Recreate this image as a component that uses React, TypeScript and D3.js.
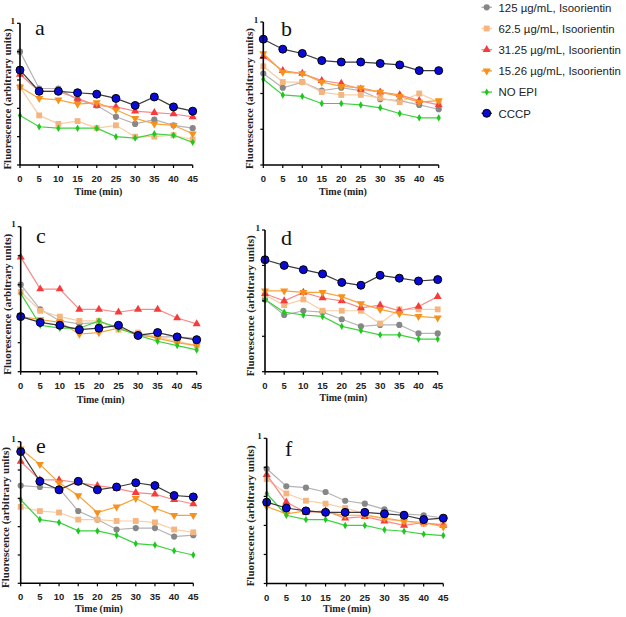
import { useMemo } from "react";
import * as d3 from "d3";

const times = [0, 5, 10, 15, 20, 25, 30, 35, 40, 45];

const seriesLabels = [
  "125 µg/mL, Isoorientin",
  "62.5 µg/mL, Isoorientin",
  "31.25 µg/mL, Isoorientin",
  "15.26 µg/mL, Isoorientin",
  "NO EPI",
  "CCCP",
];

const panelLetters = ["a", "b", "c", "d", "e", "f"];

// each panel: 125, 62.5, 31.25, 15.26, NO EPI, CCCP
const panelA = [
  [0.8, 0.54, 0.54, 0.46, 0.42, 0.34, 0.29, 0.32, 0.28, 0.26],
  [0.55, 0.35, 0.29, 0.31, 0.26, 0.28, 0.2, 0.2, 0.21, 0.18],
  [0.64, 0.52, 0.52, 0.47, 0.42, 0.41, 0.38, 0.37, 0.36, 0.34],
  [0.55, 0.47, 0.46, 0.43, 0.44, 0.39, 0.33, 0.29, 0.28, 0.22],
  [0.35, 0.27, 0.26, 0.26, 0.26, 0.2, 0.19, 0.22, 0.21, 0.16],
  [0.67, 0.52, 0.52, 0.51, 0.5, 0.47, 0.42, 0.48, 0.41, 0.38],
];

const panelB = [
  [0.64, 0.54, 0.58, 0.52, 0.54, 0.52, 0.46, 0.45, 0.42, 0.39],
  [0.69, 0.58, 0.58, 0.51, 0.49, 0.49, 0.47, 0.44, 0.5, 0.44],
  [0.76, 0.66, 0.64, 0.59, 0.57, 0.53, 0.51, 0.49, 0.45, 0.42],
  [0.78, 0.65, 0.64, 0.58, 0.55, 0.54, 0.51, 0.48, 0.44, 0.45],
  [0.6, 0.49, 0.48, 0.43, 0.43, 0.42, 0.4, 0.36, 0.33, 0.33],
  [0.88, 0.81, 0.78, 0.73, 0.72, 0.72, 0.71, 0.7, 0.66, 0.66],
];

const panelC = [
  [0.6, 0.43, 0.35, 0.33, 0.34, 0.31, 0.25, 0.24, 0.24, 0.23],
  [0.55, 0.42, 0.38, 0.35, 0.35, 0.29, 0.27, 0.24, 0.21, 0.18],
  [0.79, 0.57, 0.57, 0.43, 0.43, 0.41, 0.43, 0.43, 0.37, 0.33],
  [0.38, 0.36, 0.34, 0.26, 0.27, 0.3, 0.26, 0.23, 0.2, 0.18],
  [0.54, 0.32, 0.3, 0.3, 0.35, 0.3, 0.25, 0.21, 0.18, 0.15],
  [0.38, 0.34, 0.32, 0.29, 0.3, 0.32, 0.25, 0.27, 0.24, 0.22],
];

const panelD = [
  [0.51, 0.4, 0.43, 0.42, 0.37, 0.32, 0.33, 0.33, 0.27, 0.27],
  [0.54, 0.47, 0.51, 0.43, 0.43, 0.43, 0.34, 0.44, 0.44, 0.44],
  [0.55, 0.5, 0.56, 0.52, 0.5, 0.45, 0.47, 0.43, 0.46, 0.53],
  [0.57, 0.57, 0.56, 0.56, 0.53, 0.48, 0.44, 0.41, 0.39, 0.38],
  [0.51, 0.42, 0.4, 0.39, 0.32, 0.29, 0.26, 0.26, 0.23, 0.23],
  [0.79, 0.75, 0.72, 0.69, 0.63, 0.61, 0.68, 0.66, 0.64, 0.65],
];

const panelE = [
  [0.69, 0.68, 0.67, 0.51, 0.45, 0.38, 0.39, 0.39, 0.33, 0.34],
  [0.54, 0.51, 0.5, 0.45, 0.45, 0.44, 0.44, 0.43, 0.38, 0.36],
  [0.86, 0.73, 0.73, 0.71, 0.69, 0.67, 0.64, 0.63, 0.59, 0.56],
  [0.95, 0.84, 0.71, 0.62, 0.5, 0.54, 0.6, 0.53, 0.48, 0.48],
  [0.59, 0.45, 0.43, 0.37, 0.37, 0.34, 0.28, 0.27, 0.23, 0.2],
  [0.93, 0.72, 0.66, 0.72, 0.66, 0.68, 0.71, 0.69, 0.62, 0.61],
];

const panelF = [
  [0.79, 0.67, 0.66, 0.63, 0.57, 0.55, 0.51, 0.48, 0.47, 0.45],
  [0.72, 0.62, 0.57, 0.55, 0.52, 0.48, 0.44, 0.43, 0.41, 0.41],
  [0.75, 0.56, 0.49, 0.5, 0.45, 0.46, 0.43, 0.4, 0.42, 0.4],
  [0.53, 0.48, 0.5, 0.49, 0.47, 0.47, 0.45, 0.43, 0.42, 0.39],
  [0.62, 0.47, 0.44, 0.44, 0.4, 0.4, 0.37, 0.36, 0.34, 0.33],
  [0.56, 0.52, 0.5, 0.49, 0.49, 0.49, 0.48, 0.47, 0.44, 0.45],
];

const panelValues = [panelA, panelB, panelC, panelD, panelE, panelF];
const yTickCounts = [5, 4, 5, 4, 5, 5];

// plot frames in page pixels
const frames = [
  { x0: 20, x1: 192.7, top: 23.3, bottom: 165, labelX: 7, titleY: 195, letter: [35, 35] },
  { x0: 263.3, x1: 438.7, top: 22, bottom: 165, labelX: 249, titleY: 194.5, letter: [281, 36] },
  { x0: 20.7, x1: 196.7, top: 226.7, bottom: 371.7, labelX: 7, titleY: 403, letter: [36, 243] },
  { x0: 265, x1: 437.7, top: 230, bottom: 371.7, labelX: 250.5, titleY: 400.5, letter: [281, 245] },
  { x0: 20.7, x1: 193.3, top: 441.7, bottom: 583.3, labelX: 5.8, titleY: 612, letter: [36, 453] },
  { x0: 266.7, x1: 443.3, top: 438.3, bottom: 583.5, labelX: 250, titleY: 612, letter: [285, 456] },
];

const styles = [
  { line: "#b4b4b4", fill: "#878787", stroke: "none", symbol: d3.symbolCircle, size: 30, rotate: 0 },
  { line: "#f9cda6", fill: "#f4b57e", stroke: "none", symbol: d3.symbolSquare, size: 34, rotate: 0 },
  { line: "#f88a8a", fill: "#f43c3c", stroke: "none", symbol: d3.symbolTriangle, size: 28, rotate: 0 },
  { line: "#f7a43c", fill: "#f7901c", stroke: "none", symbol: d3.symbolTriangle, size: 28, rotate: 180 },
  { line: "#3fd23f", fill: "#1ec81e", stroke: "none", symbol: d3.symbolDiamond, size: 16, rotate: 0 },
  { line: "#3a3a3a", fill: "#0a0ad8", stroke: "#000", symbol: d3.symbolCircle, size: 50, rotate: 0 },
];

function Panel({ index }: { index: number }) {
  const f = frames[index];
  const values = panelValues[index];
  const x = d3.scaleLinear().domain([0, 45]).range([f.x0, f.x1]);
  const y = d3.scaleLinear().domain([0, 1]).range([f.bottom, f.top]);
  const yTicks = d3.range(yTickCounts[index] + 1).map((i) => i / yTickCounts[index]);
  const line = d3
    .line<number>()
    .x((_, i) => x(times[i]))
    .y((d) => y(d));
  const midY = (f.top + f.bottom) / 2 + 5;

  return (
    <g>
      {values.map((s, si) => {
        const st = styles[si];
        const path = d3.symbol(st.symbol, st.size)() as string;
        return (
          <g key={si}>
            <path d={line(s) as string} fill="none" stroke={st.line} strokeWidth={1.2} />
            {s.map((v, i) => (
              <path
                key={i}
                d={path}
                transform={`translate(${x(times[i])},${y(v)}) rotate(${st.rotate})`}
                fill={st.fill}
                stroke={st.stroke}
                strokeWidth={1}
              />
            ))}
          </g>
        );
      })}

      {/* axes */}
      <line x1={f.x0} x2={f.x0} y1={f.top} y2={f.bottom} stroke="#000" strokeWidth={1.6} />
      <line x1={f.x0} x2={f.x1} y1={f.bottom} y2={f.bottom} stroke="#000" strokeWidth={1.6} />
      {yTicks.map((t) => (
        <line key={t} x1={f.x0 - 3} x2={f.x0} y1={y(t)} y2={y(t)} stroke="#000" strokeWidth={1.2} />
      ))}
      {times.map((t) => (
        <g key={t}>
          <line x1={x(t)} x2={x(t)} y1={f.bottom} y2={f.bottom + 3} stroke="#000" strokeWidth={1.2} />
          <text
            x={x(t)}
            y={f.bottom + 17}
            textAnchor="middle"
            fontFamily="Liberation Sans, Arial, sans-serif"
            fontWeight="bold"
            fontSize={9.5}
            fill="#222"
          >
            {t}
          </text>
        </g>
      ))}
      <text
        x={f.x0 - 5}
        y={f.top + 0.5}
        textAnchor="end"
        fontFamily="Liberation Serif, Times New Roman, serif"
        fontWeight="bold"
        fontSize={9}
        fill="#222"
      >
        1
      </text>
      <text
        x={(f.x0 + f.x1) / 2 - 8}
        y={f.titleY}
        textAnchor="middle"
        fontFamily="Liberation Serif, Times New Roman, serif"
        fontWeight="bold"
        fontSize={10}
        fill="#222"
      >
        Time (min)
      </text>
      <text
        transform={`translate(${f.labelX + 3.5},${midY}) rotate(-90)`}
        textAnchor="middle"
        fontFamily="Liberation Serif, Times New Roman, serif"
        fontWeight="bold"
        fontSize={11}
        fill="#222"
      >
        Fluorescence (arbitrary units)
      </text>
      <text
        x={f.letter[0]}
        y={f.letter[1]}
        fontFamily="Liberation Serif, Times New Roman, serif"
        fontSize={22}
        fill="#111"
      >
        {panelLetters[index]}
      </text>
    </g>
  );
}

function Legend() {
  const rowY = d3.scaleLinear().domain([0, 5]).range([7.3, 113.3]);
  return (
    <g>
      {seriesLabels.map((label, i) => {
        const st = styles[i];
        const path = d3.symbol(st.symbol, st.size)() as string;
        const cy = rowY(i);
        return (
          <g key={label}>
            <line x1={481.5} x2={492} y1={cy} y2={cy} stroke={st.line} strokeWidth={1.4} />
            <path
              d={path}
              transform={`translate(486.7,${cy}) rotate(${st.rotate})`}
              fill={st.fill}
              stroke={st.stroke}
              strokeWidth={1}
            />
            <text
              x={498.5}
              y={cy + 4.2}
              fontFamily="Liberation Sans, Arial, sans-serif"
              fontSize={11.4}
              fill="#222"
            >
              {label}
            </text>
          </g>
        );
      })}
    </g>
  );
}

export default function App() {
  const panels = useMemo(() => d3.range(6), []);
  return (
    <svg
      width={626}
      height={617}
      style={{ position: "fixed", left: 0, top: 0, background: "#fff" }}
    >
      <rect width={626} height={617} fill="#fff" />
      {panels.map((i) => (
        <Panel key={i} index={i} />
      ))}
      <Legend />
    </svg>
  );
}
